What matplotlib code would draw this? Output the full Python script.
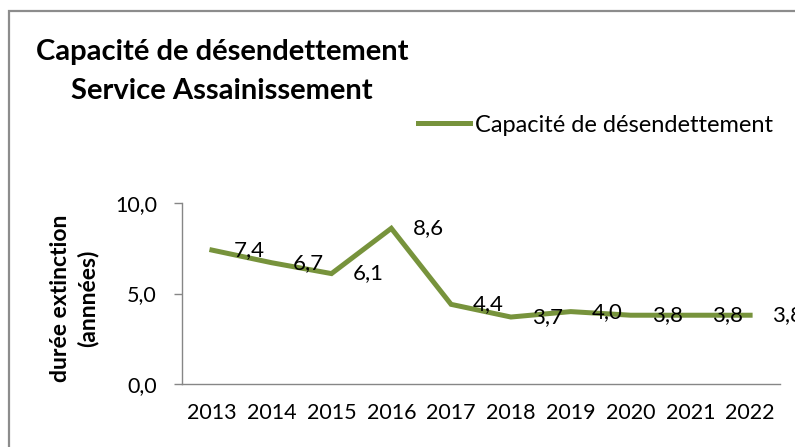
import matplotlib
matplotlib.use("Agg")
import matplotlib.pyplot as plt
from matplotlib.patches import Rectangle

years = ["2013", "2014", "2015", "2016", "2017", "2018", "2019", "2020", "2021", "2022"]
values = [7.4, 6.7, 6.1, 8.6, 4.4, 3.7, 4.0, 3.8, 3.8, 3.8]
value_labels = ["7,4", "6,7", "6,1", "8,6", "4,4", "3,7", "4,0", "3,8", "3,8", "3,8"]
yticks = [0, 5, 10]
ytick_labels = ["0,0", "5,0", "10,0"]
series_name = "Capacité de désendettement"
title_lines = ["Capacité de désendettement", "Service Assainissement"]
ylabel = "durée extinction\n(annnées)"

FONT = ["Lato", "DejaVu Sans"]
plt.rcParams["font.family"] = FONT
GREEN = "#77933C"
GRAY = "#868686"

W, H = 795, 447
fig = plt.figure(figsize=(W / 100, H / 100), dpi=100)
fig.patch.set_facecolor("white")

# outer border
fig.add_artist(Rectangle((9 / W, -0.1), 1.2, 1 - 11 / H + 0.1, transform=fig.transFigure,
                         fill=False, edgecolor="#8C8C8C", linewidth=1.6))

ax = fig.add_axes([182 / W, 1 - 384 / H, (780 - 182) / W, (384 - 203) / H])
x = list(range(len(years)))
ax.plot(x, values, color=GREEN, linewidth=3.6, solid_joinstyle="miter", label=series_name)
for xi, v, lab in zip(x, values, value_labels):
    ax.annotate(lab, (xi, v), xytext=(15.5, 0), textcoords="offset points",
                ha="left", va="center", fontsize=16, color="black", annotation_clip=False)

ax.set_xlim(-0.5, len(years) - 0.5)
ax.set_ylim(0, 10)
ax.set_xticks(x)
ax.set_xticklabels(years, fontsize=15.5)
ax.set_yticks(yticks)
ax.set_yticklabels(ytick_labels, fontsize=15.5)
ax.tick_params(axis="x", length=0, pad=14)
ax.tick_params(axis="y", length=6, width=1, color=GRAY, pad=12)
for s in ["top", "right"]:
    ax.spines[s].set_visible(False)
for s in ["left", "bottom"]:
    ax.spines[s].set_color(GRAY)
    ax.spines[s].set_linewidth(1)
ax.set_facecolor("none")

fig.text(222 / W, 1 - 52 / H, title_lines[0], ha="center", va="center",
         fontsize=21, fontweight="bold")
fig.text(222 / W, 1 - 91 / H, title_lines[1], ha="center", va="center",
         fontsize=21, fontweight="bold")
fig.text(74 / W, 1 - 298 / H, ylabel, ha="center", va="center", rotation=90,
         fontsize=16.5, fontweight="bold", linespacing=1.3, multialignment="center")

ax.legend(loc="center left", bbox_to_anchor=(418 / W, 1 - 125 / H),
          bbox_transform=fig.transFigure, frameon=False, fontsize=17,
          handlelength=2.2, handletextpad=0.2, borderpad=0, borderaxespad=0)

fig.savefig("out.png", dpi=100)
